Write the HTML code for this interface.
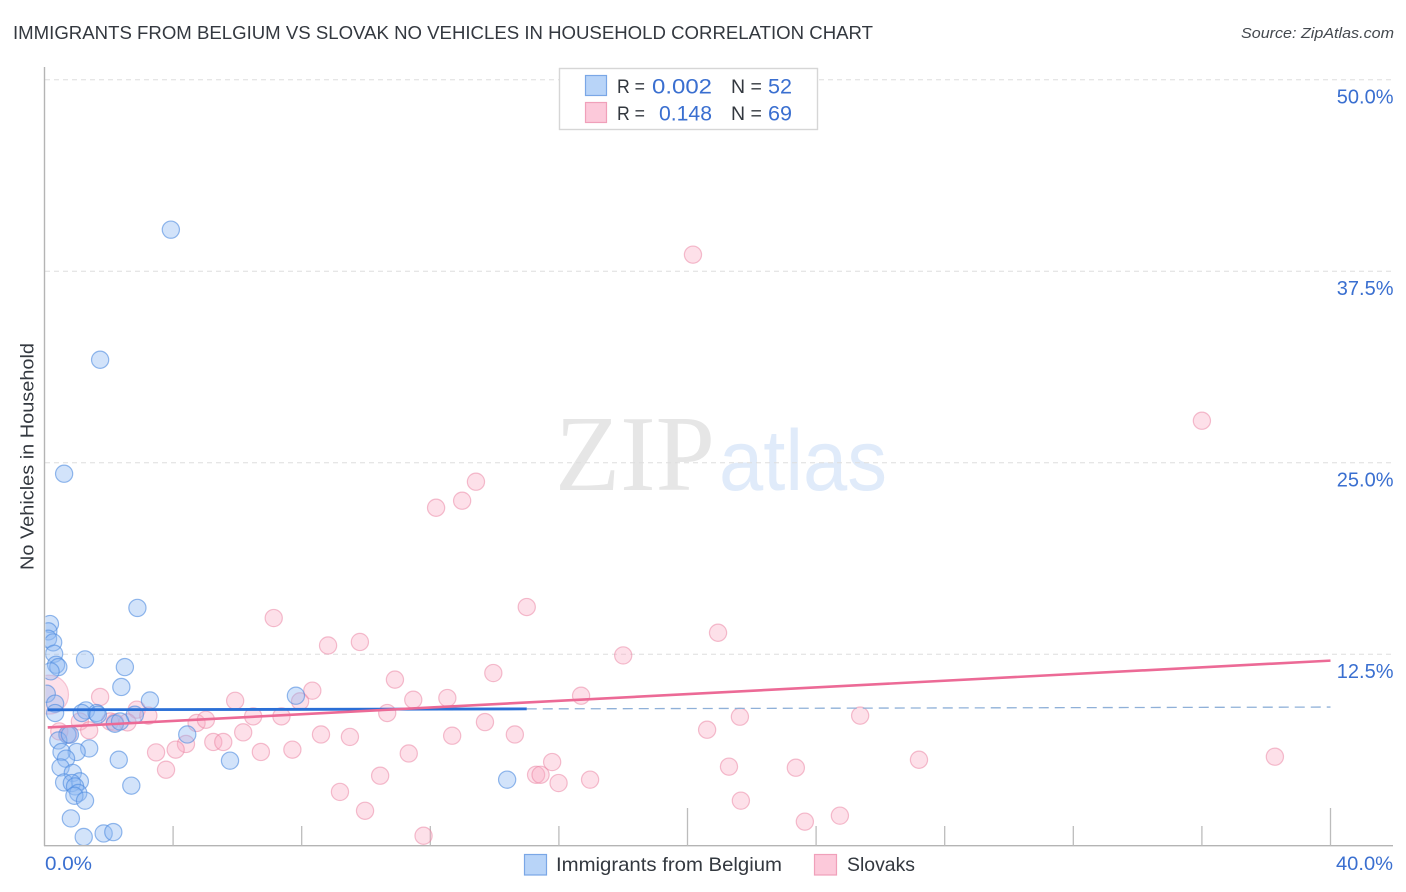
<!DOCTYPE html>
<html lang="en">
<head>
<meta charset="utf-8">
<title>Immigrants from Belgium vs Slovak No Vehicles in Household Correlation Chart</title>
<style>
html,body{margin:0;padding:0;background:#fff;}
body{width:1406px;height:892px;overflow:hidden;font-family:"Liberation Sans",sans-serif;}
svg{display:block;}
text{font-family:"Liberation Sans",sans-serif;}
</style>
</head>
<body>
<svg id="chart" width="1406" height="892" viewBox="0 0 1406 892" xmlns="http://www.w3.org/2000/svg">
  <defs>
    <clipPath id="plot-clip"><rect x="45.5" y="60" width="1350" height="785"/></clipPath>
  </defs>
  <rect x="0" y="0" width="1406" height="892" fill="#ffffff"/>

  <text x="13" y="39" font-size="18.5" fill="#33383f" textLength="860" lengthAdjust="spacingAndGlyphs">IMMIGRANTS FROM BELGIUM VS SLOVAK NO VEHICLES IN HOUSEHOLD CORRELATION CHART</text>
  <text x="1241" y="38" font-size="15" font-style="italic" fill="#44494f" textLength="153" lengthAdjust="spacingAndGlyphs">Source: ZipAtlas.com</text>

  <g>
    <text x="555" y="490" font-size="108" fill="#e6e6e6" style="font-family:'Liberation Serif',serif" textLength="160" lengthAdjust="spacingAndGlyphs">ZIP</text>
    <text x="719" y="490" font-size="86" fill="#e0ebfa" textLength="168" lengthAdjust="spacingAndGlyphs">atlas</text>
  </g>

  <g id="grid"></g>
  <g id="axes"></g>
  <g id="ylabels"></g>

  <text transform="translate(33.5,570) rotate(-90)" font-size="18.5" fill="#33383f" textLength="227" lengthAdjust="spacingAndGlyphs">No Vehicles in Household</text>
  <text x="45" y="870" font-size="19.5" fill="#3a6fd0" textLength="47" lengthAdjust="spacingAndGlyphs">0.0%</text>
  <text x="1336" y="870" font-size="19.5" fill="#3a6fd0" textLength="57" lengthAdjust="spacingAndGlyphs">40.0%</text>

  <g clip-path="url(#plot-clip)">
    <g id="points-pink"></g>
    <g id="points-blue"></g>
    <g id="trends"></g>
  </g>

  <g>
    <rect x="559.5" y="68.5" width="258" height="61" fill="#ffffff" stroke="#d6d6d6" stroke-width="1.4"/>
    <rect x="585.5" y="75.5" width="21" height="20" fill="#b8d4f8" stroke="#7aa7e6" stroke-width="1.2"/>
    <rect x="585.5" y="102.5" width="21" height="20" fill="#fcc9da" stroke="#f0a0ba" stroke-width="1.2"/>
    <text x="617" y="93" font-size="19.5" fill="#33383f" textLength="28" lengthAdjust="spacingAndGlyphs">R =</text>
    <text x="652" y="93.5" font-size="21" fill="#3a6fd0" textLength="60" lengthAdjust="spacingAndGlyphs">0.002</text>
    <text x="731" y="93" font-size="19.5" fill="#33383f">N =</text>
    <text x="768" y="93.5" font-size="21" fill="#3a6fd0" textLength="24" lengthAdjust="spacingAndGlyphs">52</text>
    <text x="617" y="120" font-size="19.5" fill="#33383f" textLength="28" lengthAdjust="spacingAndGlyphs">R =</text>
    <text x="659" y="120.5" font-size="21" fill="#3a6fd0" textLength="53" lengthAdjust="spacingAndGlyphs">0.148</text>
    <text x="731" y="120" font-size="19.5" fill="#33383f">N =</text>
    <text x="768" y="120.5" font-size="21" fill="#3a6fd0" textLength="24" lengthAdjust="spacingAndGlyphs">69</text>
  </g>

  <g>
    <rect x="524.5" y="854.5" width="22" height="20.5" fill="#b8d4f8" stroke="#7aa7e6" stroke-width="1.2"/>
    <text x="556" y="871" font-size="19.5" fill="#33383f" textLength="226" lengthAdjust="spacingAndGlyphs">Immigrants from Belgium</text>
    <rect x="814.5" y="854.5" width="22" height="20.5" fill="#fcc9da" stroke="#f0a0ba" stroke-width="1.2"/>
    <text x="847" y="871" font-size="19.5" fill="#33383f" textLength="68" lengthAdjust="spacingAndGlyphs">Slovaks</text>
  </g>
</svg>

<script>
// Axis values (percent)
const yTickValues = [12.5, 25.0, 37.5, 50.0];
const yTickLabels = ["12.5%", "25.0%", "37.5%", "50.0%"];
const xTickValues = [4, 8, 12, 16, 20, 24, 28, 32, 36, 40];
const xMajorTicks = [20, 40];

// Immigrants from Belgium: x%, y%
const belgiumX = [3.93,1.73,0.61,2.89,0.17,0.12,0.11,0.27,0.30,0.36,0.43,0.19,1.26,2.50,2.39,0.07,0.33,0.33,3.28,1.29,1.16,1.62,1.66,2.81,2.19,2.35,0.71,0.43,0.79,1.39,1.00,0.53,0.67,0.50,0.88,0.61,1.10,0.85,0.95,1.05,0.93,1.26,0.82,1.22,1.84,2.14,2.31,2.70,4.44,5.77,7.82,14.39];
const belgiumY = [40.21,31.72,24.28,15.52,14.47,13.99,13.51,13.27,12.53,11.81,11.66,11.38,12.16,11.66,10.36,9.92,9.27,8.66,9.48,8.83,8.66,8.66,8.55,8.55,7.96,8.11,7.25,6.87,7.25,6.35,6.12,6.12,5.68,5.11,4.75,4.13,4.20,4.09,3.87,3.44,3.26,2.94,1.78,0.57,0.80,0.89,5.61,3.92,7.26,5.55,9.79,4.31];

// Slovaks: x%, y%
const slovaksX = [20.17,36.00,13.42,12.99,12.18,15.00,7.13,20.95,8.82,9.81,18.00,10.90,13.96,11.47,12.53,16.69,8.33,7.95,5.93,1.73,2.87,3.23,1.10,2.04,2.58,2.19,4.73,5.02,6.49,7.37,1.39,0.46,0.74,6.18,8.60,4.40,4.08,5.25,5.56,3.47,6.73,7.71,3.78,10.66,13.70,9.50,12.68,14.63,11.33,10.44,15.79,15.29,15.43,15.99,16.97,9.19,9.97,11.79,20.61,21.63,25.37,27.20,21.29,23.37,21.66,23.65,24.74,38.27];
const slovaksY = [38.58,27.74,23.76,22.52,22.06,15.58,14.86,13.90,13.07,13.30,12.42,10.84,11.27,9.53,9.64,9.79,10.12,9.42,9.46,9.71,8.88,8.49,8.11,8.11,8.05,8.05,8.01,8.22,8.44,8.44,7.53,7.46,7.25,7.40,7.26,6.64,6.27,6.77,6.77,6.09,6.12,6.27,4.96,8.66,8.07,7.10,7.18,7.26,6.02,4.57,5.46,4.63,4.63,4.09,4.31,3.51,2.28,0.65,7.57,8.42,8.49,5.61,5.16,5.09,2.94,1.57,1.96,5.81];
// The large, faint marker at the left edge
const slovaksLargeX = [0.14];
const slovaksLargeY = [9.86];

// Trend lines: [x%], [y%]
const belgiumTrendX = [0.1, 15.0];
const belgiumTrendY = [8.87, 8.93];
const belgiumDashX = [15.0, 40.0];
const belgiumDashY = [8.93, 9.05];
const slovaksTrendX = [0.1, 40.0];
const slovaksTrendY = [7.72, 12.08];

const NS = "http://www.w3.org/2000/svg";
const xScale = v => 44.5 + v * 32.15;
const yScale = v => 845.7 - v * 15.32;

function mk(tag, attrs, parent) {
  const el = document.createElementNS(NS, tag);
  for (const k in attrs) el.setAttribute(k, attrs[k]);
  parent.appendChild(el);
  return el;
}

const grid = document.getElementById("grid");
const axes = document.getElementById("axes");
const ylabels = document.getElementById("ylabels");

yTickValues.forEach((v, i) => {
  const line = mk("line", {x1: 45, x2: 1393, y1: yScale(v), y2: yScale(v), stroke: "#dedede", "stroke-width": 1, "stroke-dasharray": "5 4"}, grid);
  
  
  const t = mk("text", {x: 1393.5, y: yScale(v) + 24, "font-size": 20, fill: "#3a6fd0", "text-anchor": "end"}, ylabels);
  
  
  t.textContent = yTickLabels[i];
});

const yAxisLine = mk("line", {x1: 44.5, x2: 44.5, y1: 67, y2: 846, stroke: "#b4b4b4", "stroke-width": 1.4}, axes);


const xAxisLine = mk("line", {x1: 44, x2: 1393, y1: 845.7, y2: 845.7, stroke: "#b4b4b4", "stroke-width": 1.4}, axes);


xTickValues.forEach(v => {
  const top = xMajorTicks.includes(v) ? 808 : 826;
  const tick = mk("line", {x1: xScale(v), x2: xScale(v), y1: top, y2: 845.7, stroke: "#bcbcbc", "stroke-width": 1.3}, axes);
  
  
});

const pinkG = document.getElementById("points-pink");
const blueG = document.getElementById("points-blue");

slovaksLargeX.forEach((x, i) => {
  const c = mk("circle", {cx: xScale(x), cy: yScale(slovaksLargeY[i]), r: 19.5, fill: "#f9a9c1", "fill-opacity": 0.36, stroke: "#ea7f9f", "stroke-opacity": 0.4, "stroke-width": 1.2}, pinkG);
  
  
});
slovaksX.forEach((x, i) => {
  const c = mk("circle", {cx: xScale(x), cy: yScale(slovaksY[i]), r: 8.6, fill: "#f9a9c1", "fill-opacity": 0.36, stroke: "#ea7f9f", "stroke-opacity": 0.5, "stroke-width": 1.2}, pinkG);
  
  
});
belgiumX.forEach((x, i) => {
  const c = mk("circle", {cx: xScale(x), cy: yScale(belgiumY[i]), r: 8.6, fill: "#8fbaf2", "fill-opacity": 0.4, stroke: "#4d8ae0", "stroke-opacity": 0.6, "stroke-width": 1.2}, blueG);
  
  
});

const trends = document.getElementById("trends");
const dash = mk("line", {x1: xScale(belgiumDashX[0]), y1: yScale(belgiumDashY[0]), x2: xScale(belgiumDashX[1]), y2: yScale(belgiumDashY[1]), stroke: "#8fb0d8", "stroke-width": 1.3, "stroke-dasharray": "10 6"}, trends);


const blueLine = mk("line", {x1: xScale(belgiumTrendX[0]), y1: yScale(belgiumTrendY[0]), x2: xScale(belgiumTrendX[1]), y2: yScale(belgiumTrendY[1]), stroke: "#2a6fd6", "stroke-width": 2.8}, trends);


const pinkLine = mk("line", {x1: xScale(slovaksTrendX[0]), y1: yScale(slovaksTrendY[0]), x2: xScale(slovaksTrendX[1]), y2: yScale(slovaksTrendY[1]), stroke: "#ec6a96", "stroke-width": 2.6}, trends);


</script>
</body>
</html>
